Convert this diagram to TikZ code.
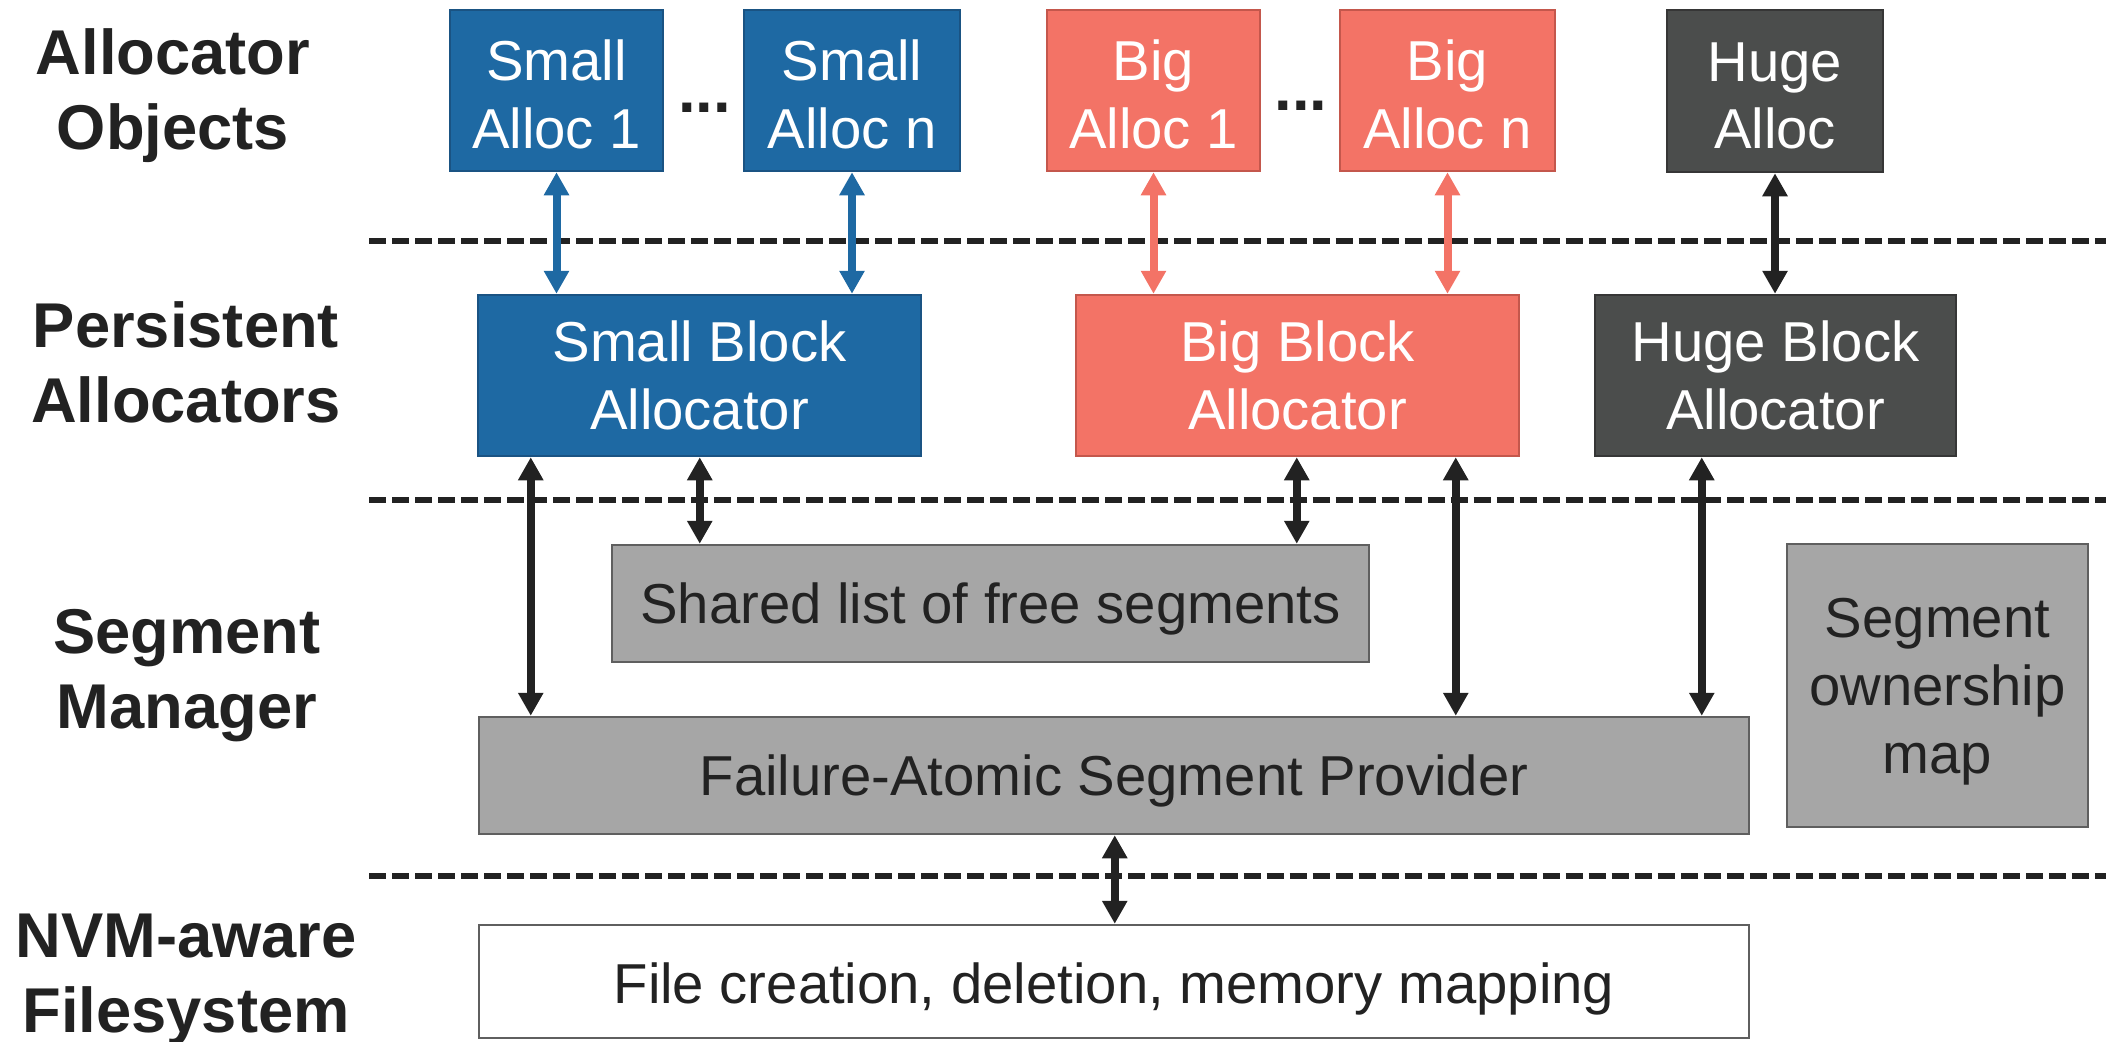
\documentclass[tikz,border=0pt]{standalone}
\usepackage{fontspec}
\setmainfont{Liberation Sans}
\usetikzlibrary{arrows.meta,calc}
\definecolor{sblue}{HTML}{1E69A3}
\definecolor{sblueline}{HTML}{1A5383}
\definecolor{salmon}{HTML}{F37366}
\definecolor{salmonline}{HTML}{C4574C}
\definecolor{dgray}{HTML}{4B4D4C}
\definecolor{dgrayline}{HTML}{363636}
\definecolor{lgray}{HTML}{A6A6A6}
\definecolor{lgrayline}{HTML}{5F5F5F}
\definecolor{ink}{HTML}{222222}
% taller first line, pushes the two-line labels of the top boxes down a little
\newcommand{\firstline}{\rule{0pt}{0.48cm}}
\begin{document}
\begin{tikzpicture}[x=0.01cm,y=-0.01cm,
  blk/.style={draw, line width=0.025cm, inner sep=0pt, text depth=0pt, align=center,
    font=\fontsize{16}{19.3}\selectfont},
  sz/.style 2 args={minimum width=#1*0.01cm, minimum height=#2*0.01cm},
  bluebox/.style={blk, fill=sblue, draw=sblueline, text=white},
  salmonbox/.style={blk, fill=salmon, draw=salmonline, text=white},
  darkbox/.style={blk, fill=dgray, draw=dgrayline, text=white},
  graybox/.style={blk, fill=lgray, draw=lgrayline, text=ink},
  whitebox/.style={blk, fill=white, draw=lgrayline, text=ink},
  layer/.style={align=center, text depth=0pt, inner sep=0pt, text=ink,
    font=\fontsize{18}{21.3}\selectfont\bfseries},
  sep/.style={draw=ink, line width=0.055cm, dash pattern=on 0.17cm off 0.06cm},
  dbl/.style={line width=0.08cm, >={Triangle[width=0.24cm,length=0.23cm]}, <->},
]
\useasboundingbox (0,0) rectangle (2106,1041);

% layer separators
\coordinate (l1a) at (369,241);  \coordinate (l1b) at (2106,241);
\coordinate (l2a) at (369,500);  \coordinate (l2b) at (2106,500);
\coordinate (l3a) at (369,876);  \coordinate (l3b) at (2106,876);
\draw[sep] (l1a) -- (l1b);
\draw[sep] (l2a) -- (l2b);
\draw[sep] (l3a) -- (l3b);

% layer names
\node[layer] (lao) at (173,89) {Allocator\\Objects};
\node[layer] (lpa) at (186,362) {Persistent\\Allocators};
\node[layer] (lsm) at (187,669) {Segment\\Manager};
\node[layer] (lfs) at (186,973) {NVM-aware\\Filesystem};

% allocator objects
\node[bluebox, sz={213}{161}] (s1) at (556.5,90.5) {\firstline Small\\Alloc 1};
\node[bluebox, sz={216}{161}] (sn) at (852,90.5) {\firstline Small\\Alloc n};
\node[salmonbox, sz={213}{161}] (b1) at (1153.5,90.5) {\firstline Big\\Alloc 1};
\node[salmonbox, sz={215}{161}] (bn) at (1447.5,90.5) {\firstline Big\\Alloc n};
\node[darkbox, sz={216}{162}] (ha) at (1775,91) {\firstline Huge\\Alloc};
\node[layer, anchor=base] (dots1) at (704.5,112) {...};
\node[layer, anchor=base] (dots2) at (1301,110) {...};

% persistent allocators
\node[bluebox, sz={443}{161}] (sba) at (699.5,375.5) {Small Block\\Allocator};
\node[salmonbox, sz={443}{161}] (bba) at (1297.5,375.5) {Big Block\\Allocator};
\node[darkbox, sz={361}{161}] (hba) at (1775.5,375.5) {Huge Block\\Allocator};

% segment manager
\node[graybox, sz={757}{117}] (shared) at (990.5,603.5) {Shared list of free segments};
\node[graybox, sz={1270}{117}] (fasp) at (1114,775.5) {Failure-Atomic Segment Provider};
\node[graybox, sz={301}{283}] (own) at (1937.5,685.5) {Segment\\ownership\\map};

% filesystem
\node[whitebox, sz={1270}{113}] (file) at (1114,981.5) {\rule{0pt}{0.44cm}File creation, deletion, memory mapping};

% allocator objects <-> block allocators
\draw[dbl, sblue] (s1.south) -- (s1.south |- sba.north);
\draw[dbl, sblue] (sn.south) -- (sn.south |- sba.north);
\draw[dbl, salmon] (b1.south) -- (b1.south |- bba.north);
\draw[dbl, salmon] (bn.south) -- (bn.south |- bba.north);
\draw[dbl, ink] (ha.south) -- (ha.south |- hba.north);

% block allocators <-> segment manager
\coordinate (p1) at ($(sba.south west)+(54,0)$);
\coordinate (p2) at ($(sba.south west)+(223,0)$);
\coordinate (p3) at ($(bba.south west)+(222,0)$);
\coordinate (p4) at ($(bba.south west)+(381,0)$);
\coordinate (p5) at ($(hba.south west)+(108,0)$);
\draw[dbl, ink] (p1) -- (p1 |- fasp.north);
\draw[dbl, ink] (p2) -- (p2 |- shared.north);
\draw[dbl, ink] (p3) -- (p3 |- shared.north);
\draw[dbl, ink] (p4) -- (p4 |- fasp.north);
\draw[dbl, ink] (p5) -- (p5 |- fasp.north);

% segment provider <-> filesystem
\coordinate (p6) at ($(fasp.south west)+(637,0)$);
\draw[dbl, ink] (p6) -- (p6 |- file.north);
\end{tikzpicture}
\end{document}
